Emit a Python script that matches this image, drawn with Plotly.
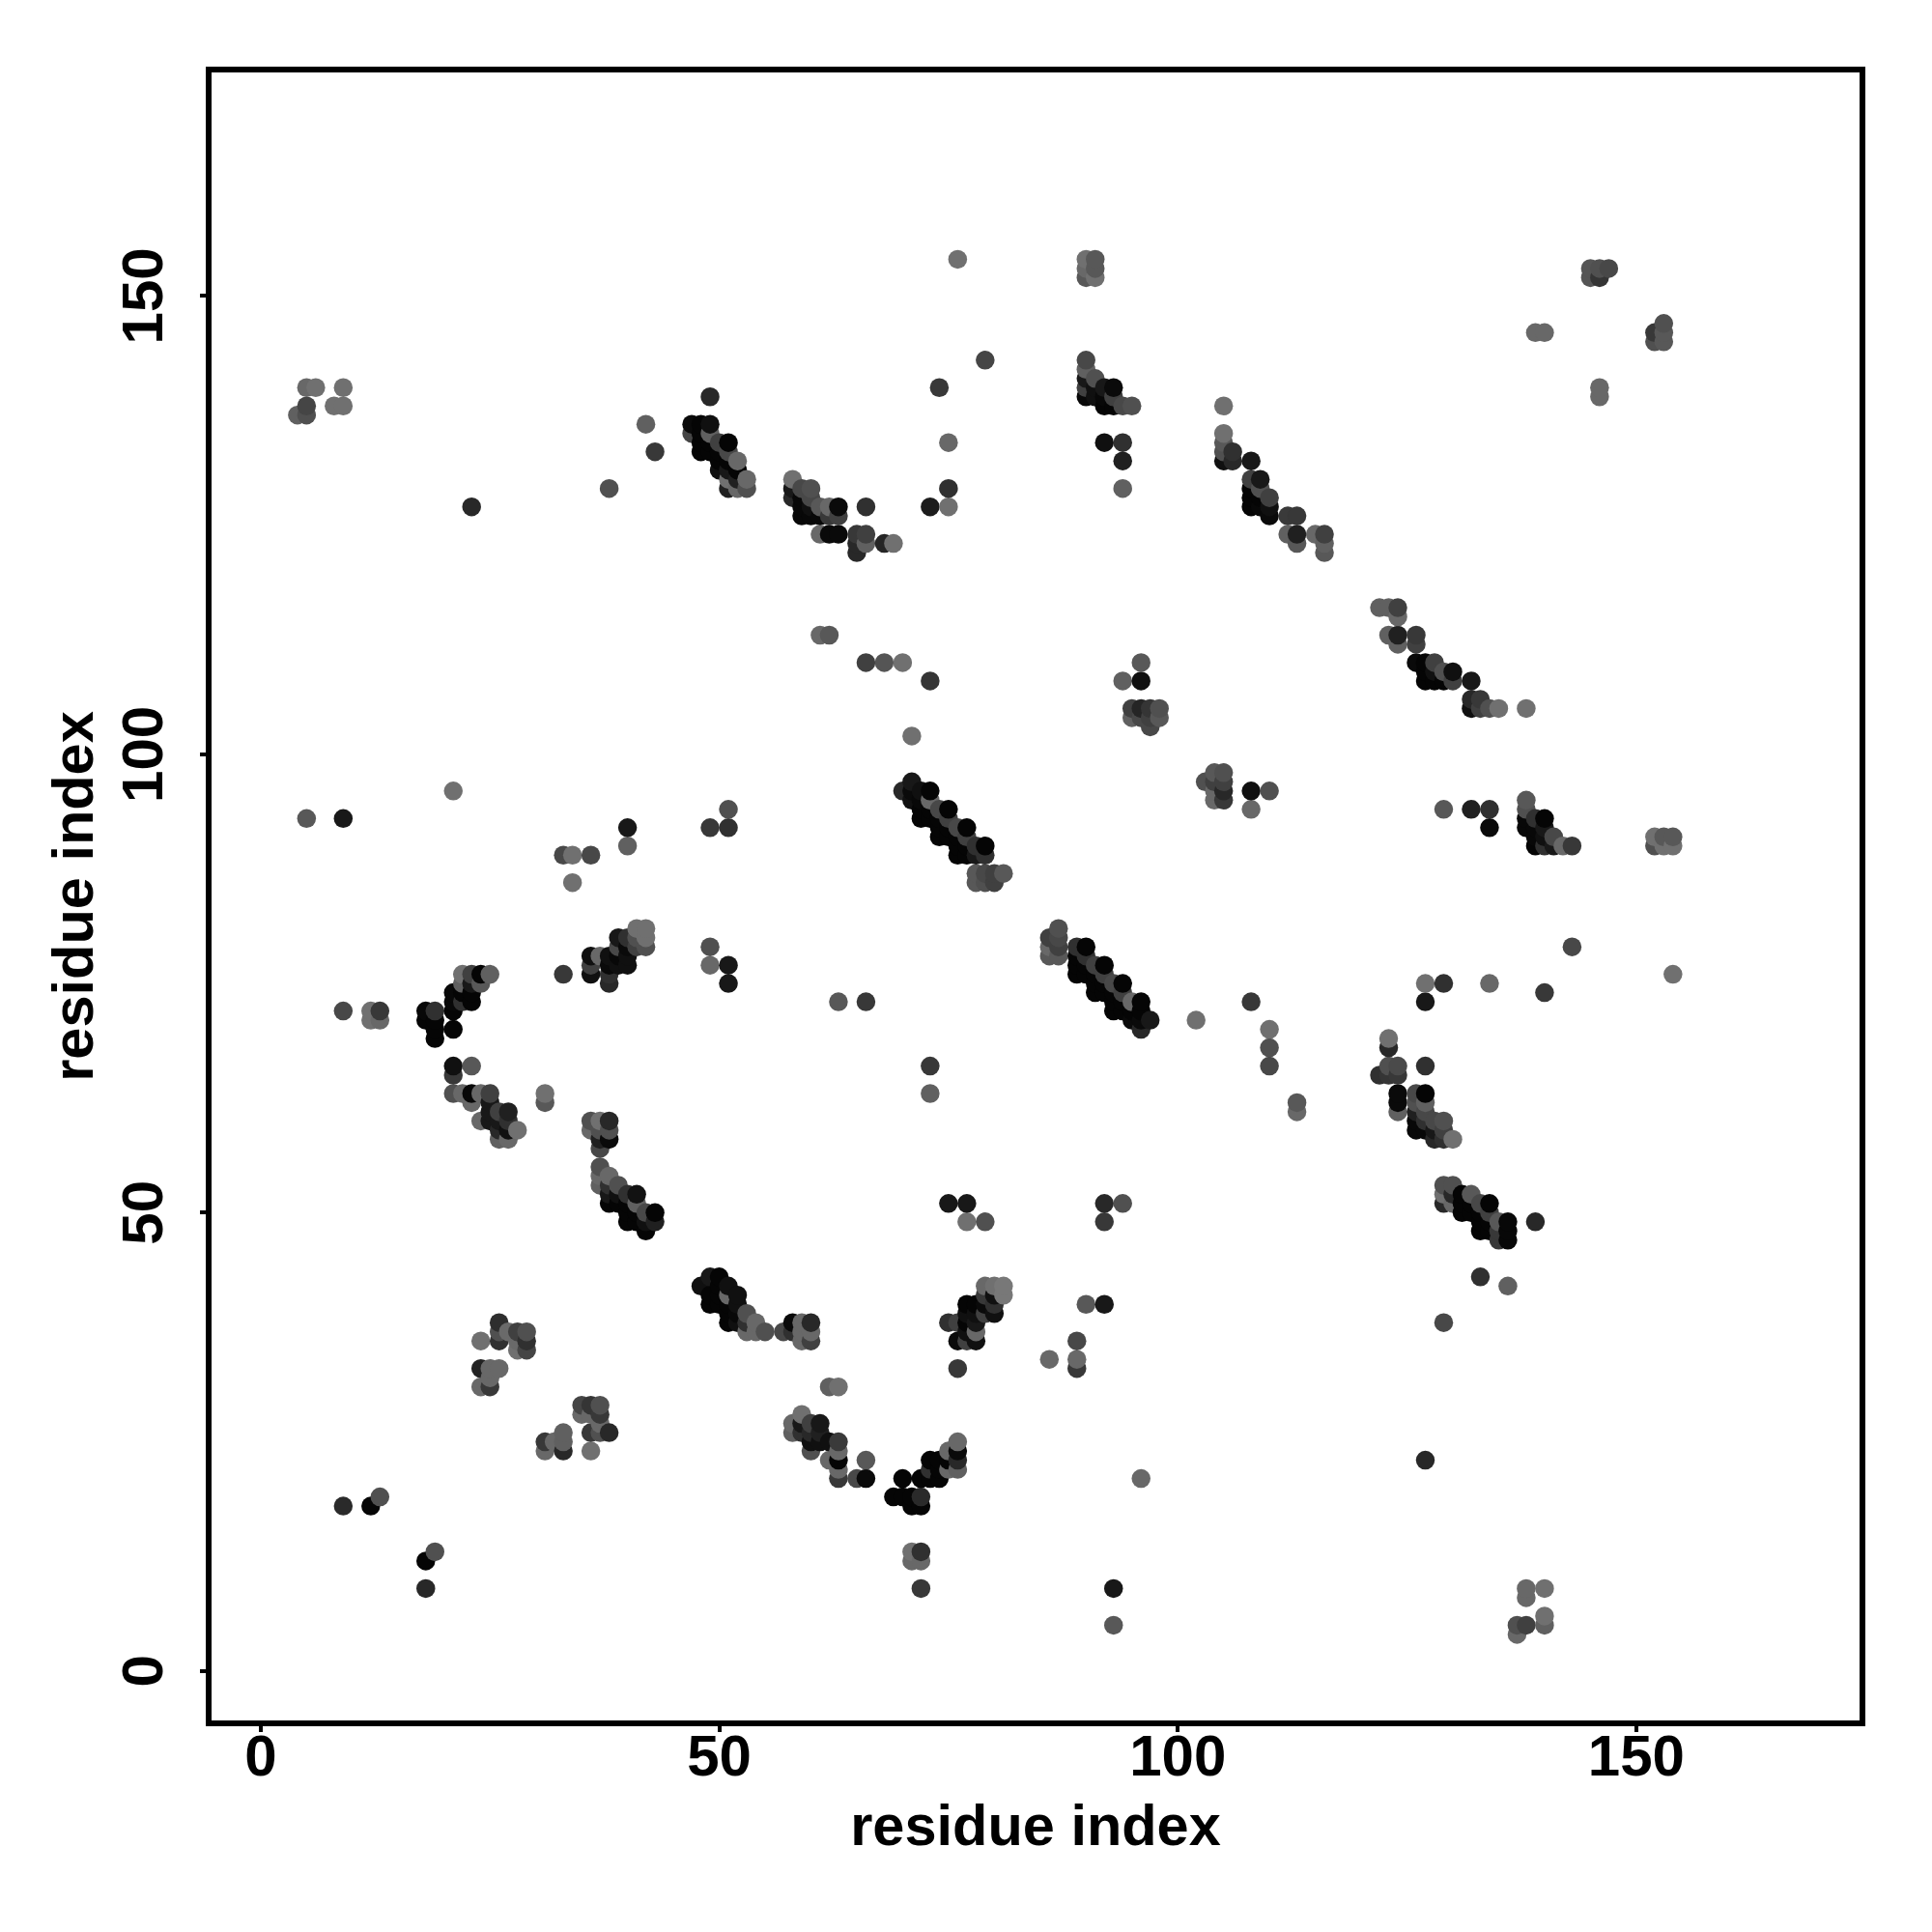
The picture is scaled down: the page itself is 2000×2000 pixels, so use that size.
import plotly.graph_objects as go

# (residue x, residue y, grey level)
isolated_low = [(9,18,0x2a),(12,18,0x05),(13,19,0x50),(18,12,0x05),(19,13,0x50),(18,9,0x28),
 (93,9,0x18),(93,5,0x58),(96,21,0x68),(127,23,0x28),(129,38,0x48),(133,43,0x30),(136,42,0x60),(139,49,0x28),
 (138,9,0x68),(138,8,0x68),(140,9,0x70),(140,6,0x70),(140,5,0x60),(137,5,0x50),(137,4,0x68),(138,5,0x40),
 (71,13,0x70),(72,13,0x30),(71,12,0x68),(72,12,0x68),(72,9,0x38)]
cluster_24_38 = [(24,36,0x70),(26,38,0x2e),(26,37,0x50),(26,36,0x30),(27,37,0x6a),(28,37,0x40),(28,36,0x6a),(28,35,0x70),
 (29,37,0x50),(29,36,0x30),(29,35,0x45),(24,33,0x22),(25,33,0x68),(26,33,0x68),(25,32,0x68),(24,31,0x68),(25,31,0x38),
 (35,29,0x45),(36,29,0x35),(37,29,0x50),(35,28,0x68),(36,28,0x68),(37,28,0x38),(37,27,0x68),(36,26,0x38),(37,26,0x50),
 (38,26,0x28),(36,24,0x70),(31,25,0x38),(31,24,0x68),(32,25,0x68),(33,26,0x60),(33,25,0x60),(33,24,0x28)]
helix_37_43 = [(37,55,0x50),(37,54,0x68),(37,53,0x60),(38,54,0x68),(38,53,0x30),(38,52,0x18),(38,51,0x05),(39,53,0x50),
 (39,52,0x10),(39,51,0x05),(40,52,0x30),(40,51,0x05),(40,50,0x05),(40,49,0x05),(41,52,0x12),(41,51,0x60),(41,50,0x05),
 (41,49,0x05),(42,50,0x48),(42,49,0x10),(42,48,0x05),(43,50,0x05),(43,49,0x20)]
helix_48_60 = [(48,42,0x10),(49,43,0x18),(50,43,0x05),(49,41,0x05),(49,40,0x05),(50,42,0x05),(50,41,0x05),(50,40,0x05),
 (51,42,0x10),(51,41,0x68),(51,40,0x05),(51,39,0x05),(51,38,0x05),(52,41,0x10),(52,40,0x10),(52,39,0x08),(52,38,0x10),(53,39,0x50),(53,38,0x30),
 (54,38,0x68),(53,37,0x68),(54,37,0x68),(55,37,0x50),(57,37,0x48),(58,38,0x0a),(58,37,0x30),(59,38,0x68),(59,37,0x68),
 (59,36,0x68),(60,38,0x28),(60,37,0x68),(60,36,0x40)]
cluster_58_66 = [(62,31,0x60),(63,31,0x70),(58,26,0x60),(58,27,0x68),(59,28,0x70),(59,27,0x18),(59,26,0x30),(60,27,0x40),
 (61,27,0x18),(60,26,0x28),(61,26,0x20),(60,25,0x10),(61,25,0x10),(60,24,0x50),(62,25,0x10),(63,25,0x3a),(63,24,0x68),
 (63,23,0x05),(62,23,0x68),(63,22,0x68),(63,21,0x38),(65,21,0x48),(66,21,0x0a),(66,23,0x58)]
cluster_69_76 = [(70,21,0x05),(69,19,0x05),(70,19,0x05),(71,19,0x05),(72,19,0x2a),(71,18,0x05),(72,18,0x05),(72,21,0x05),
 (73,23,0x05),(73,22,0x30),(73,21,0x05),(74,23,0x05),(74,22,0x05),(74,21,0x05),(75,24,0x68),(75,23,0x05),(75,22,0x68),
 (76,25,0x68),(76,24,0x0a),(76,23,0x28),(76,22,0x60)]
cluster_75_92 = [(89,36,0x48),(89,34,0x68),(89,33,0x38),(86,34,0x68),(90,40,0x58),(92,40,0x18),(92,51,0x28),(94,51,0x50),
 (92,49,0x38),(75,51,0x18),(77,51,0x18),(77,49,0x70),(79,49,0x50),(79,42,0x68),(80,42,0x70),(81,42,0x78),(81,41,0x78),
 (79,41,0x38),(80,41,0x10),(77,40,0x05),(78,40,0x05),(79,40,0x0a),(80,40,0x30),(77,39,0x10),(78,39,0x10),(79,39,0x40),
 (80,39,0x10),(75,38,0x30),(76,38,0x40),(77,38,0x05),(78,38,0x18),(76,36,0x0a),(77,36,0x40),(78,36,0x10),(78,37,0x68),
 (77,37,0x10),(76,33,0x38)]
cluster_122_130 = [(127,75,0x70),(129,75,0x30),(134,75,0x68),(127,73,0x18),(140,74,0x38),(154,76,0x70),(123,69,0x70),(123,68,0x28),
 (122,65,0x30),(123,66,0x50),(124,66,0x4a),(124,65,0x38),(123,65,0x35),(127,66,0x30),(124,63,0x0a),(124,62,0x0a),(124,61,0x60),
 (126,63,0x48),(127,63,0x05),(126,62,0x50),(127,62,0x60),(126,61,0x20),(127,61,0x48),(126,60,0x08),(128,60,0x48),(129,60,0x50),
 (126,59,0x08),(127,60,0x30),(127,59,0x08),(128,59,0x18),(129,59,0x40),(128,58,0x28),(129,58,0x30),(130,58,0x70),(113,62,0x58),(113,61,0x68)]
helix_129_136 = [(129,53,0x50),(130,53,0x50),(129,52,0x70),(129,51,0x28),(130,52,0x28),(130,51,0x68),(131,52,0x05),(132,52,0x58),
 (131,51,0x05),(131,50,0x05),(132,51,0x05),(132,50,0x05),(133,51,0x48),(134,51,0x05),(133,50,0x05),(133,49,0x05),(133,48,0x05),
 (134,50,0x40),(134,49,0x05),(134,48,0x05),(135,49,0x58),(135,47,0x38),(136,49,0x08),(136,48,0x08),(136,47,0x08),(135,48,0x38)]
left_mid = [(5,93,0x58),(9,93,0x18),(21,96,0x70),(51,94,0x50),(49,92,0x38),(51,92,0x30),(40,92,0x18),(40,90,0x60),(33,89,0x48),
 (34,89,0x70),(36,89,0x48),(34,86,0x70),(41,81,0x70),(42,81,0x70),(41,80,0x50),(42,80,0x70),(42,79,0x50),(39,80,0x18),(40,80,0x30),
 (41,79,0x40),(39,79,0x48),(40,79,0x0a),(36,78,0x10),(37,78,0x68),(38,78,0x10),(39,78,0x08),(40,78,0x10),(36,77,0x40),(38,77,0x0a),
 (39,77,0x10),(40,77,0x10),(36,76,0x10),(38,76,0x30),(38,75,0x28),(33,76,0x38),(49,79,0x50),(49,77,0x68),(51,77,0x18),(51,75,0x18)]
cluster_9_28 = [(9,72,0x48),(12,72,0x70),(13,72,0x38),(12,71,0x70),(13,71,0x68),(18,72,0x08),(19,72,0x30),(18,71,0x05),(19,71,0x05),
 (19,70,0x05),(19,69,0x05),(21,70,0x05),(21,74,0x08),(21,73,0x08),(21,72,0x05),(22,73,0x30),(23,73,0x05),(23,74,0x05),(22,74,0x05),
 (22,76,0x70),(23,76,0x40),(24,76,0x05),(25,76,0x60),(22,75,0x60),(23,75,0x18),(24,75,0x58),(21,66,0x10),(21,65,0x38),(23,66,0x58),
 (21,63,0x50),(22,63,0x68),(23,63,0x08),(24,63,0x68),(25,63,0x40),(23,62,0x68),(25,62,0x18),(24,60,0x68),(25,61,0x18),(25,60,0x18),
 (26,61,0x40),(27,61,0x20),(26,60,0x18),(27,60,0x30),(26,59,0x28),(27,59,0x10),(28,59,0x70),(26,58,0x60),(27,58,0x68),(31,63,0x70),
 (31,62,0x58),(36,60,0x50),(37,60,0x70),(38,60,0x28),(36,59,0x68),(37,59,0x50),(38,59,0x50),(37,58,0x20),(38,58,0x0a),(37,57,0x48)]
helix_70_81 = [(71,97,0x18),(70,96,0x28),(71,96,0x0a),(72,96,0x10),(73,96,0x05),(71,95,0x10),(72,95,0x08),(73,95,0x68),(72,94,0x05),
 (72,93,0x05),(73,94,0x05),(73,93,0x05),(74,94,0x48),(75,94,0x05),(74,93,0x05),(74,92,0x05),(74,91,0x05),(75,93,0x40),(75,92,0x05),
 (75,91,0x05),(76,92,0x48),(77,92,0x05),(76,91,0x05),(76,90,0x05),(76,89,0x05),(77,91,0x40),(77,90,0x05),(77,89,0x05),(78,90,0x30),
 (79,90,0x05),(78,89,0x18),(79,89,0x30),(78,87,0x58),(79,87,0x48),(80,87,0x40),(81,87,0x58),(78,86,0x58),(79,86,0x50),(80,86,0x40)]
helix_86_97 = [(87,81,0x50),(86,80,0x40),(87,80,0x48),(86,79,0x68),(87,79,0x40),(86,78,0x58),(87,78,0x58),(89,79,0x30),(90,79,0x05),
 (89,78,0x05),(89,77,0x05),(89,76,0x05),(90,78,0x30),(90,77,0x05),(90,76,0x05),(91,77,0x40),(92,77,0x05),(91,76,0x05),(91,75,0x05),(91,74,0x05),
 (92,76,0x40),(92,75,0x05),(92,74,0x05),(93,75,0x48),(94,75,0x05),(93,74,0x05),(93,73,0x05),(93,72,0x05),(94,74,0x40),(94,73,0x05),
 (94,72,0x05),(95,73,0x68),(96,73,0x05),(95,72,0x05),(95,71,0x0a),(96,72,0x05),(96,71,0x0a),(97,71,0x18),(96,70,0x28)]
mid_right = [(63,73,0x58),(66,73,0x38),(73,66,0x38),(73,63,0x60),(102,71,0x70),(108,73,0x38),(110,70,0x70),(110,68,0x50),(110,66,0x48),
 (108,96,0x10),(110,96,0x50),(108,94,0x68),(103,97,0x50),(104,98,0x58),(105,98,0x50),(104,97,0x40),(105,97,0x40),(104,96,0x68),
 (105,96,0x28),(104,95,0x68),(105,95,0x38),(143,79,0x48)]
helix_122_138 = [(122,116,0x60),(123,116,0x60),(124,116,0x40),(124,115,0x68),(123,113,0x60),(124,113,0x20),(124,112,0x60),(126,113,0x38),
 (126,112,0x40),(126,110,0x0a),(127,110,0x05),(128,110,0x40),(129,109,0x50),(130,109,0x10),(127,109,0x05),(128,109,0x10),(127,108,0x05),
 (128,108,0x05),(129,108,0x05),(130,108,0x40),(132,108,0x18),(132,106,0x28),(133,106,0x38),(132,105,0x10),(133,105,0x40),(134,105,0x50),
 (135,105,0x70),(138,105,0x70)]
helix_138_154 = [(129,94,0x58),(132,94,0x20),(134,94,0x30),(134,92,0x0a),(138,95,0x58),(138,94,0x50),(138,93,0x08),(138,92,0x08),(139,93,0x30),
 (140,93,0x05),(139,92,0x08),(139,91,0x08),(139,90,0x05),(140,92,0x18),(140,91,0x10),(140,90,0x30),(141,91,0x48),(141,90,0x18),(142,90,0x68),
 (143,90,0x38),(152,91,0x70),(152,90,0x50),(153,91,0x58),(153,90,0x70),(154,91,0x58),(154,90,0x70)]
upper_left = [(5,140,0x68),(6,140,0x70),(9,140,0x70),(5,138,0x45),(8,138,0x70),(9,138,0x70),(4,137,0x60),(5,137,0x50),(23,127,0x28),
 (38,129,0x50),(42,136,0x60),(43,133,0x38),(49,139,0x28)]
helix_47_53 = [(47,136,0x0a),(48,136,0x05),(49,136,0x10),(47,135,0x45),(48,135,0x05),(49,135,0x60),(48,134,0x05),(48,133,0x05),(49,134,0x05),
 (49,133,0x05),(50,134,0x40),(51,134,0x05),(50,133,0x05),(50,132,0x05),(50,131,0x10),(51,133,0x48),(51,132,0x05),(51,131,0x18),(52,132,0x68),(52,131,0x05),
 (53,130,0x68),(53,129,0x50),(52,130,0x20),(51,130,0x70),(51,129,0x20),(52,129,0x68)]
helix_58_69 = [(58,130,0x70),(58,129,0x18),(58,128,0x28),(59,129,0x48),(60,129,0x50),(59,128,0x08),(60,128,0x48),(59,127,0x08),(59,126,0x08),
 (60,127,0x10),(60,126,0x08),(61,127,0x58),(62,127,0x68),(63,127,0x0a),(61,126,0x08),(62,126,0x38),(63,126,0x40),(61,124,0x68),(62,124,0x0a),
 (63,124,0x0a),(65,124,0x38),(66,124,0x40),(65,123,0x28),(66,123,0x60),(65,122,0x28),(66,127,0x30),(68,123,0x25),(69,123,0x70)]
upper_mid = [(62,113,0x58),(61,113,0x68),(66,110,0x40),(68,110,0x55),(70,110,0x70),(73,108,0x35),(71,102,0x70),(76,154,0x70),(90,154,0x70),
 (91,154,0x58),(90,153,0x68),(91,153,0x58),(90,152,0x58),(91,152,0x70),(79,143,0x45),(74,140,0x38),(75,134,0x68),(75,129,0x30),(73,127,0x1c),(75,127,0x70)]
cluster_90_98 = [(90,143,0x48),(90,142,0x60),(91,141,0x50),(90,141,0x18),(90,140,0x40),(90,139,0x08),(91,140,0x10),(91,139,0x10),(92,140,0x18),
 (93,140,0x0a),(92,139,0x08),(92,138,0x05),(93,139,0x40),(93,138,0x05),(94,138,0x48),(95,138,0x50),(92,134,0x10),(94,134,0x30),(94,132,0x20),
 (94,129,0x60),(96,110,0x58),(94,108,0x60),(96,108,0x10),(95,105,0x40),(96,105,0x25),(97,105,0x35),(98,105,0x50),(95,104,0x60),(96,104,0x48),
 (97,104,0x40),(98,104,0x58),(97,103,0x48)]
helix_105_116 = [(105,138,0x70),(105,135,0x70),(105,134,0x58),(105,133,0x50),(105,132,0x10),(106,133,0x30),(106,132,0x28),(108,132,0x18),
 (108,130,0x40),(109,130,0x18),(108,129,0x05),(108,128,0x05),(108,127,0x05),(109,129,0x50),(109,128,0x05),(109,127,0x08),(110,128,0x40),
 (110,127,0x10),(110,126,0x0a),(112,126,0x3a),(113,126,0x38),(112,124,0x60),(113,124,0x20),(113,123,0x58),(115,124,0x68),(116,124,0x40),
 (116,123,0x60),(116,122,0x58)]
upper_right = [(145,153,0x55),(146,153,0x50),(147,153,0x48),(145,152,0x55),(146,152,0x35),(139,146,0x68),(140,146,0x68),(152,146,0x38),
 (153,147,0x50),(153,146,0x58),(152,145,0x50),(153,145,0x58),(146,140,0x68),(146,139,0x68)]

clusters = [isolated_low, cluster_24_38, helix_37_43, helix_48_60, cluster_58_66, cluster_69_76, cluster_75_92,
            cluster_122_130, helix_129_136, left_mid, cluster_9_28, helix_70_81, helix_86_97, mid_right,
            helix_122_138, helix_138_154, upper_left, helix_47_53, helix_58_69, upper_mid, cluster_90_98,
            helix_105_116, upper_right]

tick_values = [0, 50, 100, 150]
axis_title = "residue index"

points = sorted({(x, y): g for c in clusters for x, y, g in c}.items())
xs = [p[0][0] for p in points]
ys = [p[0][1] for p in points]
colors = [f"rgb({p[1]},{p[1]},{p[1]})" for p in points]

FONT = "Liberation Sans"
title_font = dict(family=FONT, size=59.5, color="black", weight="bold")
common = dict(tickvals=tick_values, ticks="outside", ticklen=6, tickwidth=3.5, tickcolor="black",
              showgrid=False, zeroline=False, showline=True, linecolor="black", linewidth=5.6, mirror=True,
              tickfont=dict(family=FONT, size=60, color="black", weight="bold"))
fig = go.Figure(go.Scatter(x=xs, y=ys, mode="markers",
                           marker=dict(size=19.5, color=colors, line=dict(width=0)),
                           cliponaxis=False, showlegend=False))
fig.update_layout(width=2000, height=2000, paper_bgcolor="white", plot_bgcolor="white",
                  margin=dict(l=210.8, r=82.8, t=66.8, b=227.1, autoexpand=False),
                  xaxis=dict(range=[-5.36, 174.35], ticklabelstandoff=-27,
                             title=dict(text=axis_title, standoff=21, font=title_font), **common),
                  yaxis=dict(range=[-5.39, 174.38], tickangle=-90, ticklabelstandoff=15, ticklabelshift=9,
                             title=dict(text=axis_title, standoff=0, font=title_font), **common))
fig.write_html("out.html")
